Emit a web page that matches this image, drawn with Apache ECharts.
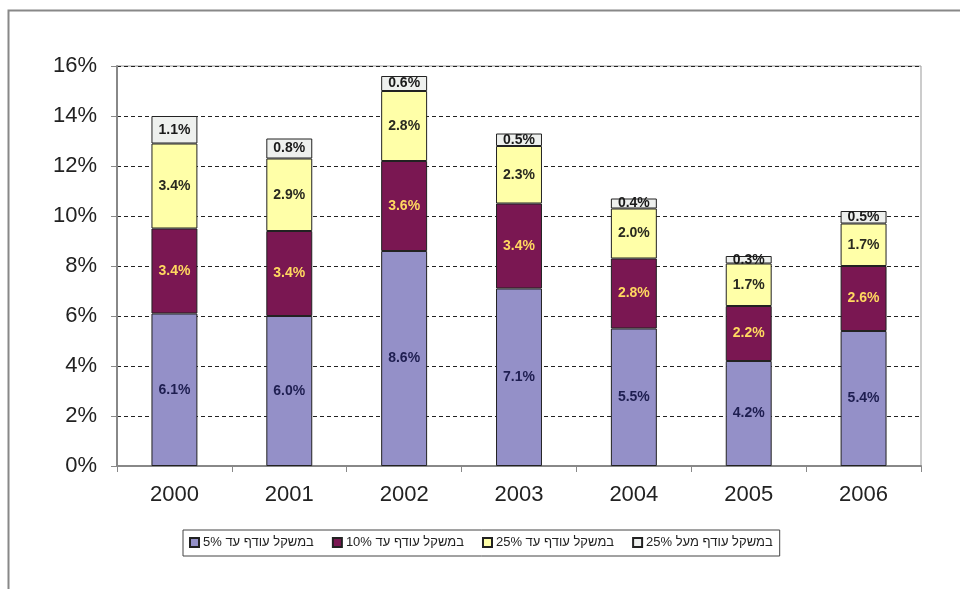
<!DOCTYPE html>
<html><head><meta charset="utf-8">
<script src="https://cdn.jsdelivr.net/npm/echarts@6/dist/echarts.min.js"></script>
<style>html,body{margin:0;padding:0;background:#fff}#c{width:960px;height:589px}</style>
</head><body><div id="c"></div>
<script>
const years = ['2000','2001','2002','2003','2004','2005','2006'];
const upTo5 = [6.1, 6.0, 8.6, 7.1, 5.5, 4.2, 5.4];
const upTo10 = [3.4, 3.4, 3.6, 3.4, 2.8, 2.2, 2.6];
const upTo25 = [3.4, 2.9, 2.8, 2.3, 2.0, 1.7, 1.7];
const over25 = [1.1, 0.8, 0.6, 0.5, 0.4, 0.3, 0.5];
const seriesNames = ['במשקל עודף עד 5%', 'במשקל עודף עד 10%', 'במשקל עודף עד 25%', 'במשקל עודף מעל 25%'];
const yTicks = [0, 2, 4, 6, 8, 10, 12, 14, 16];

const FONT = 'Liberation Sans, Arial, DejaVu Sans, sans-serif';
const colors = ['#9490C8', '#7A1752', '#FFFFA8', '#EEF0EE'];
const labelColors = ['#1E1E50', '#FFD860', '#2A2A20', '#1A1A1A'];
const dataSets = [upTo5, upTo10, upTo25, over25];

const chart = echarts.init(document.getElementById('c'), null, {renderer: 'canvas'});
chart.setOption({
  backgroundColor: '#fff',
  animation: false,
  graphic: [
    {type: 'polyline', shape: {points: [[8.5, 589], [8.5, 10.5], [960, 10.5]]},
     style: {stroke: '#888', lineWidth: 2, fill: null}, silent: true}
  ],
  grid: {left: 117, right: 39, top: 66, bottom: 123, show: true, borderColor: '#999', borderWidth: 1, backgroundColor: 'transparent'},
  legend: {
    left: 183, top: 530, itemWidth: 9, itemHeight: 9, itemGap: 18, icon: 'rect',
    backgroundColor: '#fff', borderColor: '#444', borderWidth: 1,
    padding: [6, 7, 7, 6],
    textStyle: {fontFamily: FONT, fontSize: 13, color: '#222', padding: [0, 0, 0, -1]},
    data: seriesNames
  },
  xAxis: {
    type: 'category', data: years,
    axisLine: {lineStyle: {color: '#888', width: 2}},
    axisTick: {show: true, alignWithLabel: false, lineStyle: {color: '#888'}, length: 6},
    axisLabel: {fontFamily: FONT, fontSize: 22, color: '#222', margin: 18}
  },
  yAxis: {
    type: 'value', min: 0, max: 16, interval: 2,
    axisLine: {show: true, lineStyle: {color: '#888', width: 2}},
    axisTick: {show: true, lineStyle: {color: '#888'}, length: 6},
    axisLabel: {fontFamily: FONT, fontSize: 22, color: '#222', margin: 20,
      formatter: v => yTicks.includes(v) ? v + '%' : ''},
    splitLine: {lineStyle: {color: '#222', type: [4, 3], width: 1}}
  },
  series: dataSets.map((d, i) => ({
    name: seriesNames[i], type: 'bar', stack: 'total', data: d,
    barWidth: '40%',
    itemStyle: {color: colors[i], borderColor: '#222', borderWidth: 1},
    label: {show: true, position: 'inside', formatter: p => p.value.toFixed(1) + '%',
      fontFamily: FONT, fontSize: 14, fontWeight: 'bold', color: labelColors[i]}
  }))
});
</script></body></html>
